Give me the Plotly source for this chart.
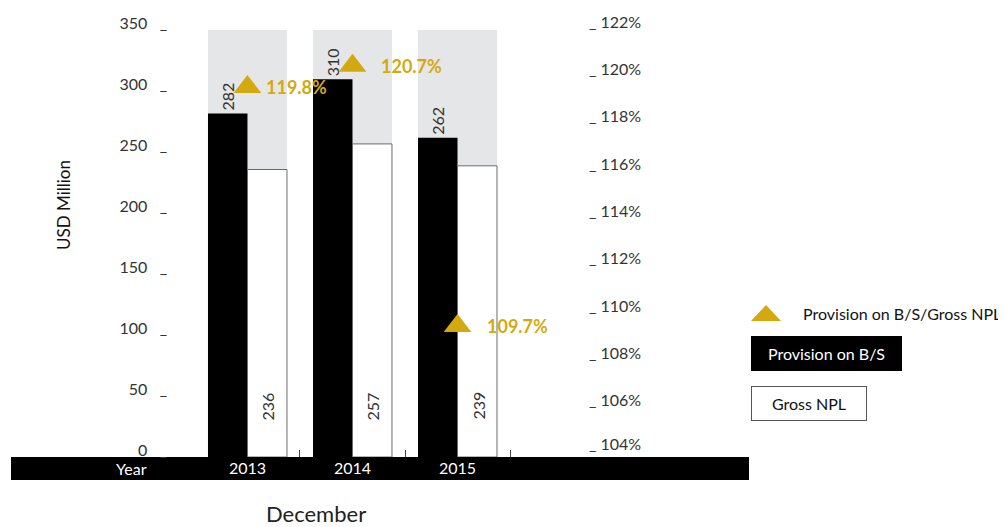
import plotly.graph_objects as go

# ---------------- data ----------------
years = ["2013", "2014", "2015"]
provision = [282, 310, 262]          # Provision on B/S (USD Million)
gross_npl = [236, 257, 239]          # Gross NPL (USD Million)
coverage = [119.8, 120.7, 109.7]     # Provision on B/S / Gross NPL (%)
left_ticks = [0, 50, 100, 150, 200, 250, 300, 350]
right_ticks = [104, 106, 108, 110, 112, 114, 116, 118, 120, 122]

# ---------------- layout geometry ----------------
# the page body adds an 8px offset, so the figure is 8px smaller and
# all screen positions below are converted with that offset
OFF = 8
W, H = 1006 - OFF, 527 - OFF
L, R, T, B = 200 - OFF, 421, 30 - OFF, 70
PW = W - L - R
PH = H - T - B


def px_x(px):  # screen px -> paper fraction
    return (px - OFF - L) / PW


def px_y(py):
    return (H - B - (py - OFF)) / PH


GOLD = "#D4A90F"
FONT = "Lato"
NB = "\u00a0"
Y_TOP = 350.5
Y2_RANGE = [104.165, 122.21]
PCT_LABEL_SHIFT = [17, 27, 27]   # horizontal offset (px) of the % labels

fig = go.Figure()

fig.add_bar(
    x=years, y=provision, name="Provision on B/S",
    marker=dict(color="black", line=dict(width=0)),
    text=[str(v) for v in provision], textposition="outside", textangle=-90,
    textfont=dict(size=16, color="#333", family=FONT),
    cliponaxis=False, showlegend=False,
)
fig.add_bar(
    x=years, y=gross_npl, name="Gross NPL",
    marker=dict(color="white", line=dict(color="#6b6b6b", width=1)),
    showlegend=False,
)
fig.add_scatter(
    x=years, y=coverage, yaxis="y2", mode="markers",
    name="Provision on B/S/Gross NPL",
    marker=dict(symbol="triangle-up", size=24, color=GOLD, line=dict(width=0)),
    cliponaxis=False, showlegend=False,
)

shapes = []
# grey background bands behind each year group
for i in range(len(years)):
    shapes.append(dict(
        type="rect", xref="x", yref="y", x0=i - 0.376, x1=i + 0.376,
        y0=0, y1=Y_TOP, fillcolor="#E5E6E7", line=dict(width=0), layer="below",
    ))
# black bottom band
shapes.append(dict(
    type="rect", xref="paper", yref="paper", x0=px_x(11), x1=px_x(749),
    y0=px_y(480), y1=px_y(457), fillcolor="black", line=dict(width=0), layer="below",
))
# legend triangle
shapes.append(dict(
    type="path", xref="paper", yref="paper",
    path=f"M {px_x(751)} {px_y(321)} L {px_x(781)} {px_y(321)} L {px_x(766)} {px_y(305)} Z",
    fillcolor=GOLD, line=dict(width=0),
))

annotations = []
# labels of the white bars, near the bottom
for i, v in enumerate(gross_npl):
    annotations.append(dict(
        x=i, y=0, xref="x", yref="paper", text=str(v), textangle=-90,
        showarrow=False, xshift=20, yshift=35, yanchor="bottom", xanchor="center",
        font=dict(size=16, color="#333", family=FONT),
    ))
# percentage labels next to the triangles
for i, v in enumerate(coverage):
    annotations.append(dict(
        x=i, y=v, xref="x", yref="y2", text=f"{v:.1f}%",
        showarrow=False, xshift=PCT_LABEL_SHIFT[i], xanchor="left", yanchor="middle",
        font=dict(size=18, color=GOLD, family=FONT, weight="bold"),
    ))

annotations += [
    dict(x=px_x(131), y=px_y(468), xref="paper", yref="paper", text="Year",
         xanchor="center", yanchor="middle",
         showarrow=False, font=dict(size=16, color="white", family=FONT)),
    dict(x=px_x(63), y=px_y(205), xref="paper", yref="paper", text="USD Million",
         xanchor="center", yanchor="middle",
         textangle=-90, showarrow=False, font=dict(size=17, color="#111", family=FONT)),
    dict(x=px_x(316), y=px_y(514), xref="paper", yref="paper", text="December",
         xanchor="center", yanchor="middle",
         showarrow=False, font=dict(size=22, color="#222", family=FONT)),
    dict(x=px_x(801), y=px_y(313), xref="paper", yref="paper", xanchor="left",
         yanchor="middle", text="Provision on B/S/Gross NPL", showarrow=False,
         font=dict(size=16, color="#111", family=FONT)),
    dict(x=px_x(751), y=px_y(353.5), xref="paper", yref="paper", xanchor="left",
         yanchor="middle", text="Provision on B/S", showarrow=False, width=151, height=35,
         bgcolor="black", borderpad=0, borderwidth=0,
         font=dict(size=16, color="white", family=FONT)),
    dict(x=px_x(751), y=px_y(403.5), xref="paper", yref="paper", xanchor="left",
         yanchor="middle", text="Gross NPL", showarrow=False, width=114, height=33,
         bgcolor="white", bordercolor="#555", borderwidth=1, borderpad=0,
         font=dict(size=16, color="#111", family=FONT)),
]

fig.update_layout(
    width=W, height=H,
    margin=dict(l=L, r=R, t=T, b=B, autoexpand=False),
    paper_bgcolor="white", plot_bgcolor="rgba(0,0,0,0)",
    barmode="group", bargap=0.248, bargroupgap=0,
    font=dict(family=FONT, color="#333"),
    shapes=shapes, annotations=annotations,
    xaxis=dict(
        type="category", range=[-0.452, 3.214], tickson="boundaries",
        ticks="inside", ticklen=7, tickcolor="#444", tickwidth=1,
        showgrid=False, zeroline=False, showline=False, automargin=False,
        tickfont=dict(size=16, color="white", family=FONT),
    ),
    yaxis=dict(
        range=[0, Y_TOP], tickmode="array", tickvals=left_ticks,
        ticktext=[f"{v}{NB*3}_" for v in left_ticks],
        showgrid=False, zeroline=False, showline=False, ticks="", automargin=False,
        tickfont=dict(size=16, color="#333", family=FONT),
        ticklabelshift=-7, ticklabelstandoff=32,
    ),
    yaxis2=dict(
        overlaying="y", side="right", range=Y2_RANGE,
        tickmode="array", tickvals=[max(v, Y2_RANGE[0]) for v in right_ticks],
        ticktext=[f"_{NB}{v}%" for v in right_ticks],
        showgrid=False, zeroline=False, showline=False, ticks="", automargin=False,
        tickfont=dict(size=16, color="#333", family=FONT),
        ticklabelshift=-13, ticklabelstandoff=3,
    ),
)

fig.write_html("out.html")
